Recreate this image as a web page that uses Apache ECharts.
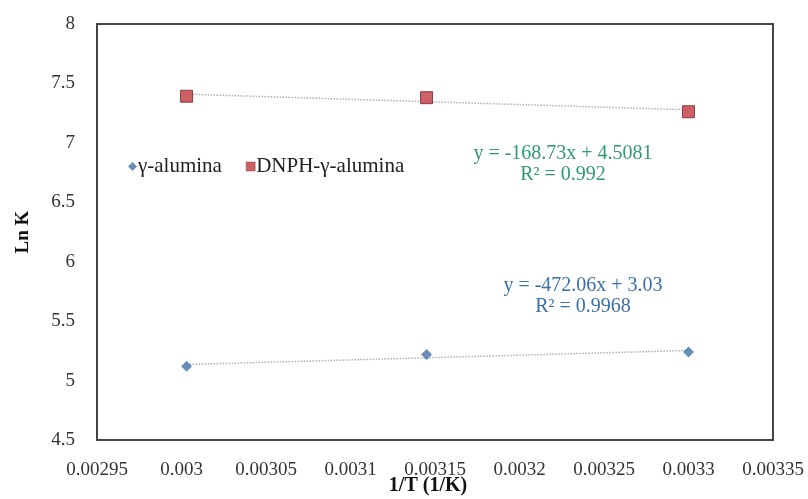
<!DOCTYPE html>
<html><head><meta charset="utf-8">
<script src="https://cdn.jsdelivr.net/npm/echarts@6/dist/echarts.min.js"></script>
<style>html,body{margin:0;padding:0;background:#fff}#c{width:808px;height:499px}</style>
</head><body><div id="c"></div>
<script>
var xValues = [0.003003, 0.003145, 0.0033];
var aluminaLnK = [5.12, 5.22, 5.24];
var dnphLnK = [7.392, 7.38, 7.262];
var seriesNames = ['γ-alumina', 'DNPH-γ-alumina'];
var dnphEq = ['y = -168.73x + 4.5081', 'R² = 0.992'];
var aluminaEq = ['y = -472.06x + 3.03', 'R² = 0.9968'];

function fit(xs, ys) {
  var n = xs.length, sx = 0, sy = 0, sxx = 0, sxy = 0;
  for (var i = 0; i < n; i++) { sx += xs[i]; sy += ys[i]; sxx += xs[i]*xs[i]; sxy += xs[i]*ys[i]; }
  var m = (n*sxy - sx*sy) / (n*sxx - sx*sx);
  var b = (sy - m*sx) / n;
  var x0 = xs[0], x1 = xs[n-1];
  return [[x0, m*x0 + b], [x1, m*x1 + b]];
}
function pairs(xs, ys) { return xs.map(function (x, i) { return [x, ys[i]]; }); }

var font = 'Liberation Serif';
var chart = echarts.init(document.getElementById('c'));
chart.setOption({
  animation: false,
  backgroundColor: '#fff',
  textStyle: { fontFamily: font },
  grid: { left: 97, right: 35, top: 24, bottom: 59, show: true, borderColor: '#444', borderWidth: 2,
          containLabel: false, outerBoundsMode: 'none' },
  legend: {
    left: 123, top: 151, itemGap: 24, itemWidth: 9, itemHeight: 9,
    textStyle: { fontFamily: font, fontSize: 21, color: '#222', padding: [0, 0, 0, -4] },
    data: [{ name: seriesNames[0], icon: 'diamond', itemStyle: { color: '#4471a8' } },
           { name: seriesNames[1], icon: 'rect', itemStyle: { color: '#c0393f', borderColor: '#7a2228', borderWidth: 0.5 } }]
  },
  xAxis: {
    type: 'value', min: 0.00295, max: 0.00335, interval: 0.00005,
    name: '1/T (1/K)', nameLocation: 'middle', nameGap: 36, nameMoveOverlap: false,
    nameTextStyle: { fontFamily: font, fontSize: 20, fontWeight: 'bold', color: '#111', padding: [0, 14, 0, 0] },
    axisLine: { show: false }, axisTick: { show: false }, splitLine: { show: false },
    axisLabel: { fontFamily: font, fontSize: 19, color: '#333', margin: 21,
      formatter: function (v) { return String(parseFloat(v.toFixed(5))); } }
  },
  yAxis: {
    type: 'value', min: 4.5, max: 8, interval: 0.5,
    name: 'Ln K', nameLocation: 'middle', nameGap: 64, nameRotate: 90, nameMoveOverlap: false,
    nameTextStyle: { fontFamily: font, fontSize: 19, fontWeight: 'bold', color: '#111' },
    axisLine: { show: false }, axisTick: { show: false }, splitLine: { show: false },
    axisLabel: { fontFamily: font, fontSize: 19, color: '#333', margin: 22 }
  },
  series: [
    { name: seriesNames[0], type: 'scatter', symbol: 'diamond', symbolSize: 11,
      itemStyle: { color: '#4471a8' }, data: pairs(xValues, aluminaLnK), z: 5 },
    { name: seriesNames[1], type: 'scatter', symbol: 'rect', symbolSize: 12,
      itemStyle: { color: '#c0393f', borderColor: '#7a2228', borderWidth: 1 }, data: pairs(xValues, dnphLnK), z: 5 },
    { name: 'trend1', type: 'line', symbol: 'none', silent: true,
      lineStyle: { color: '#b0b0b0', width: 1.5, type: 'dotted' }, data: fit(xValues, aluminaLnK), z: 2 },
    { name: 'trend2', type: 'line', symbol: 'none', silent: true,
      lineStyle: { color: '#b0b0b0', width: 1.5, type: 'dotted' }, data: fit(xValues, dnphLnK), z: 2 }
  ],
  graphic: [
    { type: 'text', position: [563, 143], style: { text: dnphEq[0] + '\n' + dnphEq[1], textAlign: 'center', fill: '#2f9a6b', font: '20px "Liberation Serif"', lineHeight: 21 } },
    { type: 'text', position: [583, 275], style: { text: aluminaEq[0] + '\n' + aluminaEq[1], textAlign: 'center', fill: '#3a70a6', font: '20px "Liberation Serif"', lineHeight: 21 } }
  ]
});
</script></body></html>
